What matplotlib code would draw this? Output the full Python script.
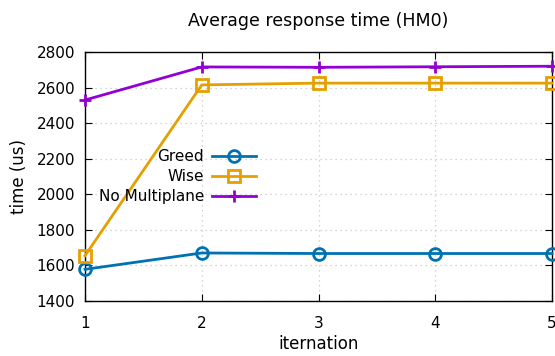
import matplotlib
matplotlib.use("Agg")
import matplotlib.pyplot as plt

iterations = [1, 2, 3, 4, 5]
greed = [1578, 1670, 1667, 1667, 1667]
wise = [1655, 2615, 2625, 2625, 2625]
no_multiplane = [2530, 2716, 2714, 2717, 2720]
yticks = [1400, 1600, 1800, 2000, 2200, 2400, 2600, 2800]

plt.rcParams['font.family'] = ['DejaVu Sans']
fig = plt.figure(figsize=(5.55, 3.56), dpi=100)
ax = fig.add_axes([85/555, 55/356, (552-85)/555, (301-52)/356])

ax.plot(iterations, greed, color='#0072b2', lw=2, marker='o', ms=8.5,
        mfc='none', mew=2, label='Greed', clip_on=False, zorder=3)
ax.plot(iterations, wise, color='#e69f00', lw=2, marker='s', ms=8.5,
        mfc='none', mew=2, label='Wise', clip_on=False, zorder=3)
ax.plot(iterations, no_multiplane, color='#9400d3', lw=2, marker='+', ms=9,
        mew=2, label='No Multiplane', clip_on=False, zorder=3)

ax.set_xlim(1, 5)
ax.set_ylim(1400, 2800)
ax.set_xticks(iterations)
ax.set_yticks(yticks)
ax.tick_params(axis='y', direction='in', right=True, length=5, labelsize=11, pad=7)
ax.tick_params(axis='x', direction='in', top=True, length=5, labelsize=11, pad=11)
ax.grid(True, color='#c8c8c8', linestyle=(0, (1, 3)), linewidth=0.9)
for s in ax.spines.values():
    s.set_linewidth(1.0)

ax.set_title('Average response time (HM0)', fontsize=12.5, pad=19)
ax.set_xlabel('iternation', fontsize=12, labelpad=3)
ax.set_ylabel('time (us)', fontsize=12, labelpad=6)

leg = ax.legend(loc='upper left', bbox_to_anchor=(0.0, 0.665), markerfirst=False,
                frameon=False, fontsize=11, handlelength=2.9, labelspacing=0.32,
                handletextpad=0.5)
for t in leg.get_texts():
    t.set_ha('right')

fig.savefig('out.png', dpi=100)
